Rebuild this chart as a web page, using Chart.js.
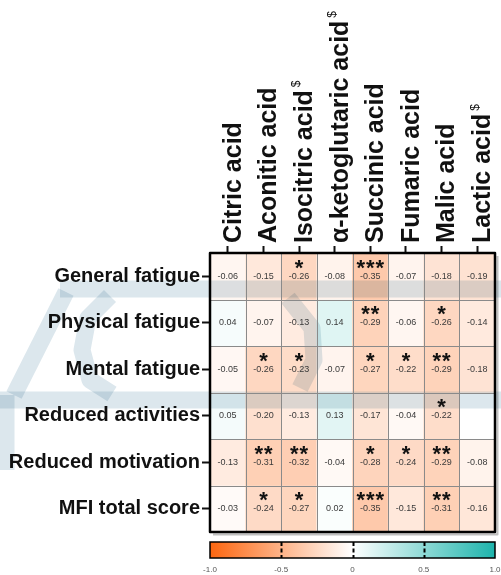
<!DOCTYPE html>
<html>
<head>
<meta charset="utf-8">
<script src="https://cdn.jsdelivr.net/npm/chart.js@4.4.1/dist/chart.umd.min.js"></script>
<style>
  html, body { margin: 0; padding: 0; background: #fff; }
  #wrap { width: 501px; height: 575px; }
</style>
</head>
<body>
<div id="wrap"><canvas id="heatmapChart" width="501" height="575"></canvas></div>
<script>
// columns / rows
const acids = ["Citric acid", "Aconitic acid", "Isocitric acid", "α-ketoglutaric acid", "Succinic acid", "Fumaric acid", "Malic acid", "Lactic acid"];
const acidMarks = ["", "", "$", "$", "", "", "", "$"];
const fatigueScales = ["General fatigue", "Physical fatigue", "Mental fatigue", "Reduced activities", "Reduced motivation", "MFI total score"];

// correlation coefficients, one array per row
const generalFatigue = [-0.06, -0.15, -0.26, -0.08, -0.35, -0.07, -0.18, -0.19];
const physicalFatigue = [0.04, -0.07, -0.13, 0.14, -0.29, -0.06, -0.26, -0.14];
const mentalFatigue = [-0.05, -0.26, -0.23, -0.07, -0.27, -0.22, -0.29, -0.18];
const reducedActivities = [0.05, -0.20, -0.13, 0.13, -0.17, -0.04, -0.22, null];
const reducedMotivation = [-0.13, -0.31, -0.32, -0.04, -0.28, -0.24, -0.29, -0.08];
const mfiTotalScore = [-0.03, -0.24, -0.27, 0.02, -0.35, -0.15, -0.31, -0.16];

// number of significance stars per cell
const generalStars = [0, 0, 1, 0, 3, 0, 0, 0];
const physicalStars = [0, 0, 0, 0, 2, 0, 1, 0];
const mentalStars = [0, 1, 1, 0, 1, 1, 2, 0];
const activitiesStars = [0, 0, 0, 0, 0, 0, 1, 0];
const motivationStars = [0, 2, 2, 0, 1, 1, 2, 0];
const mfiStars = [0, 1, 1, 0, 3, 0, 2, 0];

// colour bar
const colorbarTicks = [-1, -0.5, 0, 0.5, 1];
const colorbarTickLabels = ["-1.0", "-0.5", "0", "0.5", "1.0"];

const rowValues = [generalFatigue, physicalFatigue, mentalFatigue, reducedActivities, reducedMotivation, mfiTotalScore];
const rowStars = [generalStars, physicalStars, mentalStars, activitiesStars, motivationStars, mfiStars];

// faint background logo that shows through the scanned figure (decoration only)
const watermarkStrokes = [
    [[6, 470], [6, 395]],
    [[14, 395], [66, 292]],
    [[60, 289], [501, 289]],
    [[0, 400], [501, 400]],
    [[110, 296], [88, 318], [82, 350], [90, 380], [112, 394]],
    [[288, 298], [312, 328], [314, 360], [300, 388]]
];

const FONT = '"Liberation Sans", Arial, sans-serif';
const NEG = [252, 102, 16];
const POS = [29, 180, 172];

function cellColor(v) {
    if (v === null) return "#ffffff";
    const end = v < 0 ? NEG : POS;
    const t = Math.min(Math.abs(v), 1);
    const c = end.map(e => Math.round(255 + (e - 255) * t));
    return `rgb(${c[0]}, ${c[1]}, ${c[2]})`;
}

const heatmapPlugin = {
    id: "heatmapDecor",
    afterDatasetsDraw(chart) {
        const ctx = chart.ctx;
        const { left, right, top, bottom } = chart.chartArea;
        const x = chart.scales.x;
        const y = chart.scales.y;

        ctx.save();
        // washed out logo behind everything
        ctx.globalCompositeOperation = "multiply";
        ctx.strokeStyle = "rgb(220, 231, 237)";
        ctx.lineWidth = 17;
        ctx.lineJoin = "round";
        watermarkStrokes.forEach(line => {
            ctx.beginPath();
            line.forEach(([px, py], k) => (k ? ctx.lineTo(px, py) : ctx.moveTo(px, py)));
            ctx.stroke();
        });
        ctx.globalCompositeOperation = "source-over";

        // inner cell lines
        ctx.strokeStyle = "#8a8a8a";
        ctx.lineWidth = 1;
        ctx.beginPath();
        for (let i = 1; i < acids.length; i++) {
            const px = Math.round((x.getPixelForValue(i - 1) + x.getPixelForValue(i)) / 2) + 0.5;
            ctx.moveTo(px, top);
            ctx.lineTo(px, bottom);
        }
        for (let k = 1; k < fatigueScales.length; k++) {
            const py = Math.round(y.getPixelForValue(k)) + 0.5;
            ctx.moveTo(left, py);
            ctx.lineTo(right, py);
        }
        ctx.stroke();

        // values and stars
        ctx.font = "bold 22px " + FONT;
        const m = ctx.measureText("*");
        const starShift = (m.actualBoundingBoxAscent - m.actualBoundingBoxDescent) / 2;
        chart.data.datasets.forEach((ds, i) => {
            const meta = chart.getDatasetMeta(i);
            meta.data.forEach((bar, j) => {
                const v = rowValues[i][j];
                if (v === null) return;
                const cx = bar.x;
                const cy = (bar.y + bar.base) / 2;
                ctx.fillStyle = "#3a3a3a";
                ctx.font = "9px " + FONT;
                ctx.textAlign = "center";
                ctx.textBaseline = "middle";
                ctx.fillText(v.toFixed(2), cx, cy);
                const n = rowStars[i][j];
                if (n > 0) {
                    ctx.fillStyle = "#111";
                    ctx.font = "bold 22px " + FONT;
                    ctx.textBaseline = "alphabetic";
                    for (let s = 0; s < n; s++) {
                        const sx = cx + (s - (n - 1) / 2) * 9.5;
                        ctx.fillText("*", sx, cy - 12 + starShift);
                    }
                }
            });
        });

        // outer frame with a small shadow
        ctx.strokeStyle = "rgba(0,0,0,0.25)";
        ctx.lineWidth = 2;
        ctx.beginPath();
        ctx.moveTo(right + 2.5, top + 3);
        ctx.lineTo(right + 2.5, bottom + 2.5);
        ctx.lineTo(left + 3, bottom + 2.5);
        ctx.stroke();
        ctx.strokeStyle = "#000";
        ctx.lineWidth = 2.5;
        ctx.strokeRect(left, top, right - left, bottom - top);
        ctx.restore();
    },
    afterDraw(chart) {
        const ctx = chart.ctx;
        const x = chart.scales.x;
        const cb = chart.scales.cb;
        ctx.save();

        // superscript marks after some column labels
        ctx.font = "bold 25px " + FONT;
        acids.forEach((name, i) => {
            if (!acidMarks[i]) return;
            const w = ctx.measureText(name).width;
            const px = x.getPixelForValue(i) - 2;
            const py = x.bottom - 7 - 3 - w - 3;
            ctx.save();
            ctx.translate(px, py);
            ctx.rotate(-Math.PI / 2);
            ctx.font = "12px " + FONT;
            ctx.fillStyle = "#111";
            ctx.textAlign = "left";
            ctx.textBaseline = "middle";
            ctx.fillText(acidMarks[i], 0, 0);
            ctx.restore();
        });

        // colour bar
        const x0 = cb.getPixelForValue(-1);
        const x1 = cb.getPixelForValue(1);
        const y0 = chart.chartArea.bottom + 10;
        const h = 16;
        const grad = ctx.createLinearGradient(x0, 0, x1, 0);
        grad.addColorStop(0, cellColor(-1));
        grad.addColorStop(0.5, cellColor(0));
        grad.addColorStop(1, cellColor(1));
        ctx.fillStyle = grad;
        ctx.fillRect(x0, y0, x1 - x0, h);
        ctx.strokeStyle = "#000";
        ctx.lineWidth = 1.5;
        ctx.strokeRect(x0, y0, x1 - x0, h);
        ctx.lineWidth = 2;
        ctx.setLineDash([4, 2.5]);
        colorbarTicks.slice(1, -1).forEach(t => {
            const px = Math.round(cb.getPixelForValue(t)) + 0.5;
            ctx.beginPath();
            ctx.moveTo(px, y0);
            ctx.lineTo(px, y0 + h);
            ctx.stroke();
        });
        ctx.restore();
    }
};

function fixHeight(h) {
    return (scale) => {
        scale.height = h;
        scale.paddingLeft = 0;
        scale.paddingRight = 0;
    };
}

const ctx = document.getElementById("heatmapChart");

new Chart(ctx, {
    type: "bar",
    data: {
        labels: acids,
        datasets: rowValues.map((vals, i) => ({
            label: fatigueScales[i],
            data: vals.map(() => [i, i + 1]),
            backgroundColor: vals.map(v => cellColor(v)),
            borderWidth: 0,
            barPercentage: 1,
            categoryPercentage: 1,
            grouped: false
        }))
    },
    options: {
        responsive: false,
        animation: false,
        layout: { padding: { left: 0, right: 6, top: 0, bottom: 0 } },
        plugins: {
            legend: { display: false },
            tooltip: { enabled: false }
        },
        scales: {
            x: {
                position: "top",
                grid: {
                    display: true,
                    drawOnChartArea: false,
                    drawTicks: true,
                    tickLength: 7,
                    tickWidth: 2,
                    tickColor: "#111",
                    offset: false
                },
                border: { display: false },
                ticks: {
                    autoSkip: false,
                    minRotation: 90,
                    maxRotation: 90,
                    padding: 3,
                    labelOffset: 36,
                    color: "#111",
                    font: { family: FONT, size: 25, weight: "bold" }
                },
                afterFit: fixHeight(253)
            },
            y: {
                type: "linear",
                min: 0,
                max: fatigueScales.length,
                reverse: true,
                afterBuildTicks: (scale) => {
                    scale.ticks = fatigueScales.map((_, i) => ({ value: i + 0.5 }));
                },
                grid: {
                    display: true,
                    drawOnChartArea: false,
                    drawTicks: true,
                    tickLength: 8,
                    tickWidth: 2,
                    tickColor: "#111"
                },
                border: { display: false },
                ticks: {
                    autoSkip: false,
                    padding: 2,
                    color: "#111",
                    font: { family: FONT, size: 20, weight: "bold" },
                    callback: (v) => fatigueScales[Math.floor(v)]
                },
                afterFit: (scale) => { scale.width = 210; }
            },
            cb: {
                type: "linear",
                position: "bottom",
                min: -1,
                max: 1,
                offset: false,
                afterBuildTicks: (scale) => {
                    scale.ticks = colorbarTicks.map(t => ({ value: t }));
                },
                grid: { display: false, drawTicks: false, offset: false },
                border: { display: false },
                ticks: {
                    padding: 33,
                    color: "#555",
                    font: { family: FONT, size: 8 },
                    callback: (v) => colorbarTickLabels[colorbarTicks.indexOf(v)]
                },
                afterFit: fixHeight(43)
            }
        }
    },
    plugins: [heatmapPlugin]
});
</script>
</body>
</html>
